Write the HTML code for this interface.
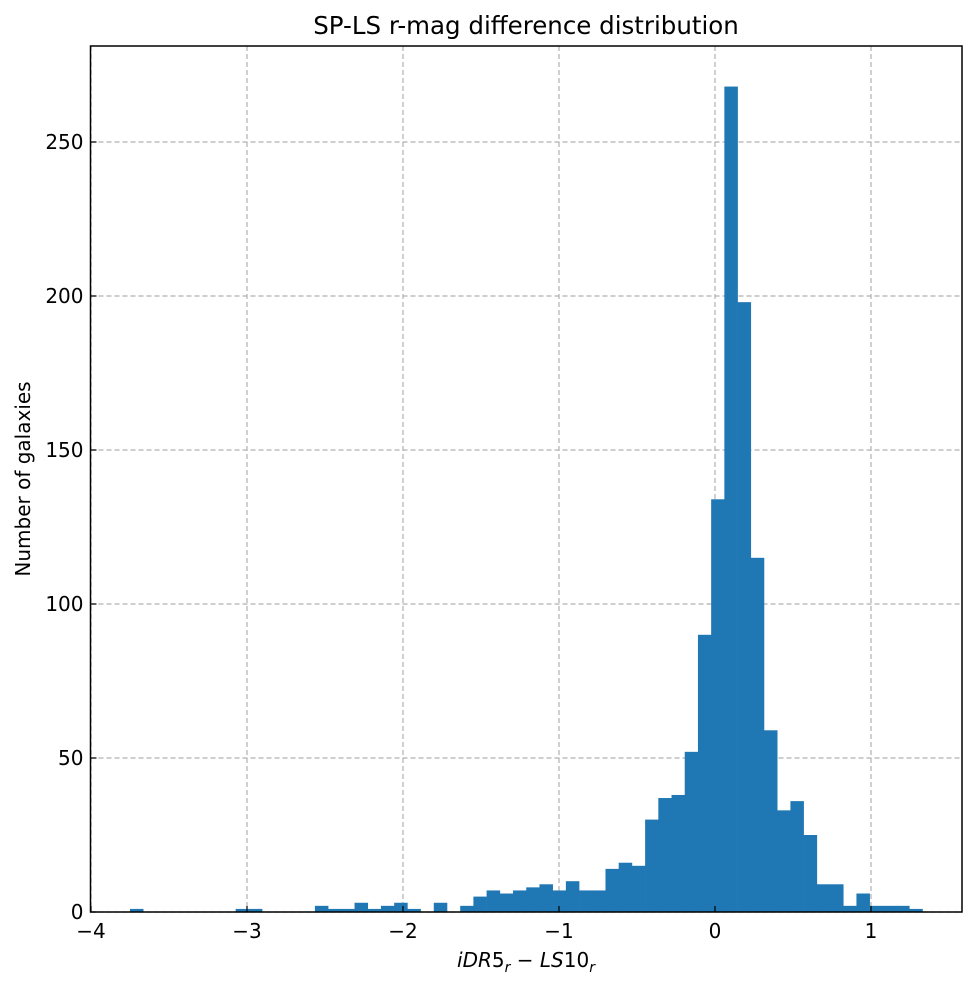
<!DOCTYPE html>
<html><head><meta charset="utf-8"><style>
body{margin:0;background:#fff}
svg text{font-family:"DejaVu Sans","Liberation Sans",sans-serif;fill:#000}
</style></head><body>
<svg id="c" width="977" height="986" xmlns="http://www.w3.org/2000/svg">
<rect width="977" height="986" fill="#fff"/>
<text x="526" y="34" font-size="24.5" text-anchor="middle">SP-LS r-mag difference distribution</text>
<g id="grid"></g>
<g id="bars"></g>
<g id="axes"></g>
<text x="526" y="967" font-size="20" text-anchor="middle"><tspan font-style="italic">iDR</tspan>5<tspan font-style="italic" font-size="14" dy="5">r</tspan><tspan dy="-5"> − </tspan><tspan font-style="italic">LS</tspan>10<tspan font-style="italic" font-size="14" dy="5">r</tspan></text>
<text x="30" y="479" font-size="20" text-anchor="middle" transform="rotate(-90 30 479)">Number of galaxies</text>
</svg>
<script>
const counts=[1,0,0,0,0,0,0,0,1,1,0,0,0,0,2,1,1,3,1,2,3,1,0,3,0,2,5,7,6,7,8,9,7,10,7,7,14,16,15,30,37,38,52,90,134,268,198,115,59,33,36,25,9,9,2,6,2,2,2,1];
const binStart=-3.75, binEnd=1.33;
const xTicks=[-4,-3,-2,-1,0,1];
const yTicks=[0,50,100,150,200,250];
const L=90.5,R=962,T=46,B=912;
const X=v=>715+156*v;
const Y=v=>912-3.08*v;
const NS="http://www.w3.org/2000/svg";
function mk(t,a,p){const e=document.createElementNS(NS,t);for(const k in a)e.setAttribute(k,a[k]);p.appendChild(e);return e;}
const grid=document.getElementById('grid'),bars=document.getElementById('bars'),axes=document.getElementById('axes');
xTicks.forEach(v=>{const l=mk('line',{x1:X(v),x2:X(v),y1:T,y2:B,stroke:'#b0b0b0','stroke-width':1.2,'stroke-dasharray':'5,3'},grid);

});
yTicks.forEach(v=>{const l=mk('line',{x1:L,x2:R,y1:Y(v),y2:Y(v),stroke:'#b0b0b0','stroke-width':1.2,'stroke-dasharray':'5,3'},grid);

});
const w=(binEnd-binStart)/counts.length;
counts.forEach((c,i)=>{if(!c)return;const x0=X(binStart+i*w),x1=X(binStart+(i+1)*w);
const r=mk('rect',{x:x0,y:Y(c),width:x1-x0+0.3,height:Y(0)-Y(c),fill:'#1f77b4'},bars);

});
mk('rect',{x:L,y:T,width:R-L,height:B-T,fill:'none',stroke:'#000','stroke-width':1.5},axes);
xTicks.forEach(v=>{mk('line',{x1:X(v),x2:X(v),y1:B,y2:B-6,stroke:'#000','stroke-width':1.2},axes);
const t=mk('text',{x:X(v),y:B+26,'font-size':20,'text-anchor':'middle'},axes);t.textContent=v<0?'−'+(-v):v;

});
yTicks.forEach(v=>{mk('line',{x1:L,x2:L+6,y1:Y(v),y2:Y(v),stroke:'#000','stroke-width':1.2},axes);
const t=mk('text',{x:L-7,y:Y(v)+7,'font-size':20,'text-anchor':'end'},axes);t.textContent=v;

});
</script>
</body></html>
